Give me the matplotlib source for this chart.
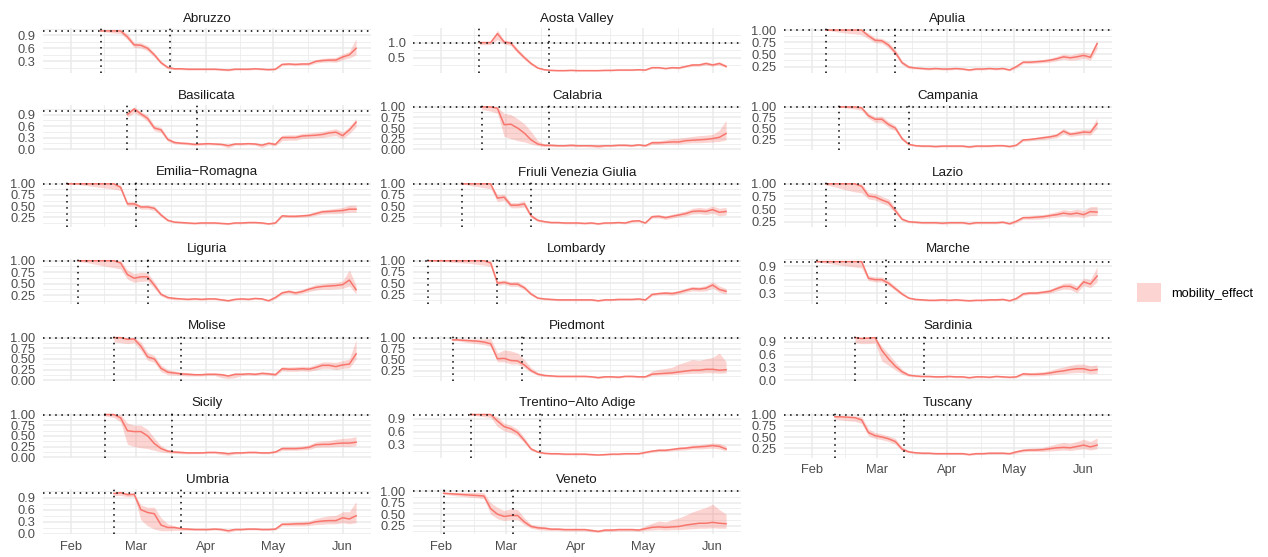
import numpy as np
import matplotlib
matplotlib.use("Agg")
import matplotlib.pyplot as plt
import matplotlib.dates as mdates
from matplotlib.patches import Patch

plt.rcParams["font.family"] = ["Liberation Sans", "DejaVu Sans"]

RED = "#F8766D"

regions = ["Abruzzo", "Aosta Valley", "Apulia",
           "Basilicata", "Calabria", "Campania",
           "Emilia\u2212Romagna", "Friuli Venezia Giulia", "Lazio",
           "Liguria", "Lombardy", "Marche",
           "Molise", "Piedmont", "Sardinia",
           "Sicily", "Trentino\u2212Alto Adige", "Tuscany",
           "Umbria", "Veneto"]

start_dates = ["2020-02-14", "2020-02-18", "2020-02-07", "2020-02-26", "2020-02-19",
               "2020-02-13", "2020-01-30", "2020-02-10", "2020-02-07", "2020-02-04",
               "2020-01-26", "2020-02-03", "2020-02-20", "2020-02-06", "2020-02-20",
               "2020-02-16", "2020-02-14", "2020-02-11", "2020-02-20", "2020-02-02"]

marker_dates = ["2020-03-16", "2020-03-20", "2020-03-09", "2020-03-28", "2020-03-20",
                "2020-03-15", "2020-03-01", "2020-03-12", "2020-03-09", "2020-03-06",
                "2020-02-26", "2020-03-05", "2020-03-21", "2020-03-08", "2020-03-22",
                "2020-03-17", "2020-03-16", "2020-03-13", "2020-03-21", "2020-03-04"]

# samples every 3 days; every series ends on 7 June
sample_dates = np.arange(np.datetime64("2020-01-27"), np.datetime64("2020-06-08"), 3)

effect_mean = [
    [1.0, 1.0, 1.0, 1.0, 0.86, 0.68, 0.67, 0.6, 0.45, 0.27, 0.16, 0.13, 0.13, 0.12, 0.12, 0.12, 0.12, 0.12, 0.11, 0.1, 0.12, 0.12, 0.12, 0.13, 0.12, 0.11, 0.12, 0.23, 0.24, 0.23, 0.24, 0.24, 0.3, 0.32, 0.33, 0.33, 0.4, 0.45, 0.6],
    [1.0, 1.0, 1.3, 1.02, 0.98, 0.72, 0.5, 0.3, 0.15, 0.09, 0.07, 0.06, 0.06, 0.07, 0.06, 0.06, 0.06, 0.06, 0.07, 0.07, 0.08, 0.08, 0.08, 0.09, 0.08, 0.16, 0.16, 0.13, 0.16, 0.15, 0.2, 0.25, 0.25, 0.3, 0.25, 0.3, 0.2],
    [1.0, 1.0, 1.0, 1.0, 1.0, 1.0, 0.88, 0.79, 0.78, 0.69, 0.54, 0.33, 0.24, 0.22, 0.21, 0.2, 0.21, 0.2, 0.2, 0.21, 0.2, 0.18, 0.2, 0.2, 0.21, 0.2, 0.21, 0.18, 0.25, 0.34, 0.34, 0.35, 0.36, 0.38, 0.41, 0.45, 0.43, 0.45, 0.48, 0.44, 0.72],
    [0.9, 1.05, 0.92, 0.8, 0.55, 0.5, 0.25, 0.17, 0.15, 0.14, 0.12, 0.13, 0.14, 0.13, 0.12, 0.09, 0.13, 0.13, 0.14, 0.13, 0.1, 0.15, 0.12, 0.3, 0.3, 0.3, 0.34, 0.35, 0.36, 0.38, 0.42, 0.44, 0.35, 0.5, 0.7],
    [1.0, 1.0, 0.97, 0.58, 0.59, 0.5, 0.38, 0.22, 0.12, 0.09, 0.09, 0.08, 0.08, 0.09, 0.08, 0.08, 0.08, 0.07, 0.08, 0.08, 0.09, 0.09, 0.08, 0.1, 0.08, 0.15, 0.15, 0.16, 0.17, 0.17, 0.2, 0.21, 0.22, 0.23, 0.25, 0.28, 0.37],
    [1.0, 1.0, 1.0, 0.98, 0.8, 0.72, 0.72, 0.6, 0.52, 0.28, 0.15, 0.12, 0.11, 0.11, 0.1, 0.11, 0.11, 0.11, 0.11, 0.09, 0.11, 0.11, 0.11, 0.12, 0.12, 0.1, 0.13, 0.25, 0.26, 0.28, 0.3, 0.32, 0.35, 0.45, 0.38, 0.4, 0.43, 0.42, 0.62],
    [1.0, 1.0, 1.0, 1.0, 1.0, 1.0, 1.0, 1.0, 0.92, 0.55, 0.55, 0.48, 0.48, 0.45, 0.3, 0.18, 0.14, 0.13, 0.12, 0.11, 0.12, 0.12, 0.12, 0.11, 0.1, 0.12, 0.12, 0.13, 0.13, 0.12, 0.1, 0.12, 0.28, 0.27, 0.27, 0.28, 0.29, 0.33, 0.37, 0.38, 0.39, 0.4, 0.43, 0.43],
    [1.0, 1.0, 1.0, 1.0, 1.0, 0.68, 0.7, 0.52, 0.52, 0.55, 0.28, 0.18, 0.15, 0.13, 0.13, 0.12, 0.12, 0.12, 0.11, 0.12, 0.1, 0.12, 0.12, 0.13, 0.12, 0.16, 0.17, 0.12, 0.26, 0.27, 0.24, 0.27, 0.3, 0.33, 0.38, 0.39, 0.38, 0.42, 0.36, 0.38],
    [1.0, 1.0, 1.0, 1.0, 1.0, 0.95, 0.76, 0.74, 0.68, 0.63, 0.47, 0.3, 0.25, 0.24, 0.23, 0.23, 0.23, 0.22, 0.23, 0.23, 0.23, 0.21, 0.23, 0.23, 0.23, 0.23, 0.24, 0.21, 0.26, 0.33, 0.33, 0.34, 0.35, 0.37, 0.39, 0.42, 0.4, 0.42, 0.39, 0.45, 0.44],
    [1.0, 1.0, 1.0, 1.0, 1.0, 1.0, 0.95, 0.7, 0.62, 0.65, 0.65, 0.47, 0.27, 0.2, 0.18, 0.17, 0.16, 0.17, 0.16, 0.17, 0.17, 0.15, 0.13, 0.16, 0.17, 0.16, 0.18, 0.17, 0.13, 0.2, 0.3, 0.33, 0.3, 0.33, 0.38, 0.42, 0.44, 0.45, 0.46, 0.48, 0.58, 0.37],
    [1.0, 1.0, 1.0, 1.0, 1.0, 1.0, 1.0, 1.0, 1.0, 0.95, 0.5, 0.52, 0.48, 0.48, 0.4, 0.26, 0.17, 0.15, 0.14, 0.13, 0.13, 0.13, 0.13, 0.13, 0.13, 0.11, 0.13, 0.13, 0.14, 0.14, 0.14, 0.15, 0.13, 0.25, 0.27, 0.28, 0.27, 0.3, 0.34, 0.38, 0.37, 0.39, 0.46, 0.36, 0.32],
    [1.0, 1.0, 1.0, 1.0, 1.0, 1.0, 1.0, 0.63, 0.6, 0.6, 0.52, 0.4, 0.28, 0.19, 0.16, 0.15, 0.14, 0.14, 0.15, 0.14, 0.15, 0.14, 0.13, 0.14, 0.14, 0.15, 0.15, 0.16, 0.13, 0.18, 0.28, 0.3, 0.3, 0.32, 0.34, 0.4, 0.45, 0.45, 0.38, 0.55, 0.5, 0.68],
    [1.0, 1.0, 0.96, 0.97, 0.8, 0.55, 0.5, 0.28, 0.19, 0.17, 0.15, 0.14, 0.13, 0.13, 0.14, 0.14, 0.13, 0.1, 0.14, 0.14, 0.15, 0.14, 0.16, 0.15, 0.13, 0.27, 0.26, 0.26, 0.27, 0.26, 0.3, 0.35, 0.35, 0.32, 0.36, 0.38, 0.62],
    [0.95, 0.94, 0.93, 0.92, 0.9, 0.86, 0.52, 0.53, 0.48, 0.47, 0.38, 0.25, 0.17, 0.14, 0.13, 0.12, 0.12, 0.12, 0.12, 0.12, 0.11, 0.09, 0.11, 0.11, 0.1, 0.12, 0.12, 0.11, 0.11, 0.17, 0.18, 0.19, 0.2, 0.22, 0.24, 0.26, 0.26, 0.28, 0.28, 0.26, 0.27],
    [1.0, 0.98, 0.99, 1.0, 0.7, 0.5, 0.33, 0.2, 0.12, 0.1, 0.09, 0.09, 0.08, 0.08, 0.09, 0.08, 0.08, 0.06, 0.08, 0.08, 0.07, 0.09, 0.08, 0.07, 0.08, 0.15, 0.14, 0.14, 0.15, 0.17, 0.2, 0.22, 0.25, 0.27, 0.27, 0.23, 0.25],
    [1.0, 1.0, 0.92, 0.62, 0.6, 0.6, 0.5, 0.32, 0.2, 0.14, 0.12, 0.11, 0.1, 0.1, 0.1, 0.11, 0.11, 0.1, 0.08, 0.1, 0.1, 0.11, 0.11, 0.1, 0.1, 0.12, 0.2, 0.2, 0.2, 0.21, 0.23, 0.29, 0.3, 0.3, 0.32, 0.33, 0.33, 0.35],
    [1.0, 1.0, 1.0, 1.0, 0.85, 0.72, 0.67, 0.58, 0.4, 0.2, 0.13, 0.1, 0.09, 0.09, 0.08, 0.08, 0.08, 0.08, 0.07, 0.06, 0.07, 0.08, 0.08, 0.09, 0.09, 0.09, 0.12, 0.15, 0.17, 0.17, 0.19, 0.21, 0.22, 0.24, 0.25, 0.26, 0.28, 0.26, 0.2],
    [0.95, 0.95, 0.94, 0.93, 0.88, 0.6, 0.53, 0.5, 0.46, 0.4, 0.23, 0.17, 0.15, 0.14, 0.14, 0.13, 0.13, 0.13, 0.13, 0.13, 0.11, 0.13, 0.13, 0.14, 0.14, 0.14, 0.13, 0.17, 0.2, 0.21, 0.21, 0.22, 0.24, 0.26, 0.27, 0.26, 0.29, 0.32, 0.28, 0.32],
    [1.0, 1.02, 0.97, 0.98, 0.6, 0.53, 0.5, 0.22, 0.16, 0.16, 0.13, 0.12, 0.11, 0.11, 0.11, 0.12, 0.11, 0.08, 0.11, 0.11, 0.12, 0.12, 0.11, 0.11, 0.12, 0.24, 0.24, 0.25, 0.25, 0.26, 0.3, 0.32, 0.33, 0.33, 0.4, 0.37, 0.45],
    [0.96, 0.95, 0.94, 0.93, 0.92, 0.91, 0.9, 0.62, 0.5, 0.45, 0.47, 0.47, 0.33, 0.23, 0.2, 0.19, 0.17, 0.17, 0.16, 0.16, 0.16, 0.16, 0.14, 0.12, 0.15, 0.15, 0.16, 0.16, 0.16, 0.15, 0.18, 0.21, 0.22, 0.21, 0.22, 0.23, 0.26, 0.28, 0.3, 0.3, 0.32, 0.3, 0.29],
]

effect_lo = [
    [0.99, 0.97, 0.95, 0.94, 0.8, 0.62, 0.61, 0.54, 0.4, 0.23, 0.13, 0.11, 0.11, 0.1, 0.1, 0.1, 0.1, 0.1, 0.09, 0.08, 0.1, 0.1, 0.1, 0.11, 0.1, 0.09, 0.1, 0.2, 0.21, 0.2, 0.21, 0.21, 0.26, 0.28, 0.29, 0.28, 0.34, 0.38, 0.45],
    [0.93, 0.93, 1.1, 0.95, 0.9, 0.65, 0.43, 0.25, 0.12, 0.07, 0.05, 0.05, 0.05, 0.05, 0.05, 0.05, 0.05, 0.05, 0.05, 0.05, 0.06, 0.06, 0.06, 0.07, 0.06, 0.13, 0.13, 0.11, 0.13, 0.12, 0.17, 0.2, 0.21, 0.25, 0.21, 0.25, 0.16],
    [0.99, 0.97, 0.95, 0.93, 0.92, 0.9, 0.82, 0.74, 0.73, 0.63, 0.48, 0.29, 0.21, 0.2, 0.19, 0.18, 0.19, 0.18, 0.18, 0.19, 0.18, 0.16, 0.18, 0.18, 0.19, 0.18, 0.19, 0.16, 0.22, 0.31, 0.31, 0.32, 0.33, 0.34, 0.37, 0.4, 0.38, 0.39, 0.42, 0.38, 0.62],
    [0.84, 0.95, 0.85, 0.72, 0.48, 0.43, 0.2, 0.13, 0.12, 0.11, 0.09, 0.1, 0.11, 0.1, 0.09, 0.03, 0.1, 0.1, 0.11, 0.1, 0.04, 0.11, 0.08, 0.22, 0.23, 0.23, 0.27, 0.28, 0.29, 0.3, 0.33, 0.35, 0.27, 0.4, 0.58],
    [0.93, 0.9, 0.85, 0.3, 0.25, 0.2, 0.17, 0.12, 0.08, 0.06, 0.06, 0.06, 0.06, 0.06, 0.06, 0.06, 0.05, 0.03, 0.06, 0.06, 0.07, 0.07, 0.06, 0.08, 0.06, 0.11, 0.11, 0.12, 0.12, 0.12, 0.14, 0.15, 0.15, 0.16, 0.17, 0.18, 0.22],
    [0.99, 0.97, 0.95, 0.92, 0.74, 0.65, 0.65, 0.53, 0.46, 0.24, 0.13, 0.1, 0.09, 0.09, 0.08, 0.09, 0.09, 0.09, 0.09, 0.07, 0.09, 0.09, 0.09, 0.1, 0.1, 0.08, 0.11, 0.22, 0.23, 0.25, 0.26, 0.28, 0.3, 0.39, 0.33, 0.35, 0.37, 0.36, 0.52],
    [1.0, 0.99, 0.98, 0.96, 0.94, 0.92, 0.9, 0.88, 0.85, 0.5, 0.5, 0.43, 0.43, 0.4, 0.26, 0.15, 0.12, 0.11, 0.1, 0.09, 0.1, 0.1, 0.1, 0.09, 0.08, 0.1, 0.1, 0.11, 0.11, 0.1, 0.08, 0.1, 0.25, 0.24, 0.24, 0.25, 0.26, 0.29, 0.32, 0.33, 0.33, 0.34, 0.36, 0.36],
    [0.99, 0.96, 0.94, 0.91, 0.89, 0.6, 0.63, 0.46, 0.46, 0.48, 0.24, 0.15, 0.13, 0.11, 0.11, 0.1, 0.1, 0.1, 0.09, 0.1, 0.08, 0.1, 0.1, 0.11, 0.1, 0.13, 0.14, 0.1, 0.23, 0.23, 0.2, 0.23, 0.26, 0.28, 0.32, 0.33, 0.31, 0.34, 0.28, 0.3],
    [0.97, 0.94, 0.9, 0.87, 0.84, 0.82, 0.7, 0.68, 0.62, 0.56, 0.42, 0.27, 0.23, 0.22, 0.21, 0.21, 0.21, 0.2, 0.21, 0.21, 0.21, 0.19, 0.21, 0.21, 0.21, 0.21, 0.22, 0.19, 0.23, 0.3, 0.3, 0.3, 0.31, 0.33, 0.34, 0.36, 0.34, 0.35, 0.33, 0.37, 0.37],
    [0.98, 0.96, 0.93, 0.9, 0.87, 0.85, 0.82, 0.6, 0.53, 0.55, 0.56, 0.4, 0.23, 0.17, 0.15, 0.15, 0.14, 0.15, 0.14, 0.15, 0.15, 0.13, 0.11, 0.14, 0.15, 0.14, 0.16, 0.15, 0.11, 0.17, 0.27, 0.29, 0.26, 0.29, 0.33, 0.36, 0.38, 0.38, 0.39, 0.4, 0.45, 0.28],
    [1.0, 0.99, 0.98, 0.97, 0.96, 0.95, 0.94, 0.92, 0.9, 0.87, 0.45, 0.48, 0.43, 0.43, 0.36, 0.23, 0.15, 0.13, 0.12, 0.11, 0.11, 0.11, 0.11, 0.11, 0.11, 0.09, 0.11, 0.11, 0.12, 0.12, 0.12, 0.13, 0.11, 0.22, 0.24, 0.24, 0.23, 0.26, 0.3, 0.33, 0.32, 0.33, 0.39, 0.3, 0.26],
    [0.98, 0.96, 0.94, 0.92, 0.9, 0.88, 0.86, 0.58, 0.55, 0.55, 0.47, 0.36, 0.25, 0.17, 0.14, 0.13, 0.12, 0.12, 0.13, 0.12, 0.13, 0.12, 0.11, 0.12, 0.12, 0.13, 0.13, 0.14, 0.11, 0.15, 0.25, 0.27, 0.27, 0.29, 0.3, 0.35, 0.39, 0.38, 0.31, 0.47, 0.42, 0.55],
    [0.9, 0.88, 0.86, 0.88, 0.7, 0.47, 0.42, 0.2, 0.13, 0.12, 0.11, 0.1, 0.1, 0.1, 0.11, 0.11, 0.06, 0.04, 0.06, 0.11, 0.12, 0.11, 0.13, 0.12, 0.1, 0.22, 0.21, 0.21, 0.22, 0.21, 0.24, 0.28, 0.28, 0.25, 0.28, 0.29, 0.5],
    [0.93, 0.9, 0.88, 0.86, 0.84, 0.8, 0.45, 0.45, 0.4, 0.4, 0.32, 0.21, 0.14, 0.12, 0.11, 0.1, 0.1, 0.1, 0.1, 0.1, 0.09, 0.07, 0.09, 0.09, 0.08, 0.1, 0.1, 0.09, 0.09, 0.14, 0.15, 0.15, 0.16, 0.17, 0.18, 0.19, 0.19, 0.2, 0.2, 0.19, 0.2],
    [0.88, 0.86, 0.86, 0.87, 0.45, 0.35, 0.24, 0.14, 0.09, 0.08, 0.07, 0.07, 0.06, 0.06, 0.07, 0.06, 0.06, 0.04, 0.06, 0.06, 0.05, 0.07, 0.06, 0.05, 0.06, 0.11, 0.1, 0.1, 0.11, 0.12, 0.14, 0.15, 0.17, 0.18, 0.18, 0.15, 0.16],
    [0.96, 0.93, 0.82, 0.3, 0.25, 0.22, 0.2, 0.16, 0.12, 0.1, 0.09, 0.08, 0.08, 0.08, 0.08, 0.09, 0.09, 0.06, 0.04, 0.07, 0.08, 0.09, 0.09, 0.08, 0.08, 0.1, 0.16, 0.16, 0.16, 0.17, 0.18, 0.23, 0.24, 0.24, 0.25, 0.25, 0.25, 0.27],
    [0.99, 0.97, 0.95, 0.93, 0.72, 0.62, 0.58, 0.5, 0.34, 0.17, 0.11, 0.08, 0.07, 0.07, 0.06, 0.06, 0.06, 0.06, 0.05, 0.05, 0.05, 0.06, 0.06, 0.07, 0.07, 0.07, 0.1, 0.12, 0.14, 0.14, 0.16, 0.17, 0.18, 0.2, 0.2, 0.21, 0.22, 0.2, 0.16],
    [0.9, 0.88, 0.86, 0.85, 0.8, 0.53, 0.47, 0.44, 0.4, 0.34, 0.19, 0.15, 0.13, 0.12, 0.12, 0.11, 0.11, 0.11, 0.11, 0.11, 0.09, 0.11, 0.11, 0.12, 0.12, 0.12, 0.11, 0.14, 0.17, 0.18, 0.18, 0.18, 0.19, 0.2, 0.21, 0.2, 0.22, 0.24, 0.21, 0.24],
    [0.95, 0.95, 0.92, 0.93, 0.35, 0.2, 0.12, 0.08, 0.08, 0.09, 0.09, 0.09, 0.09, 0.09, 0.09, 0.1, 0.08, 0.04, 0.08, 0.09, 0.1, 0.1, 0.09, 0.09, 0.1, 0.2, 0.2, 0.2, 0.2, 0.21, 0.23, 0.24, 0.25, 0.25, 0.28, 0.25, 0.28],
    [0.94, 0.92, 0.9, 0.89, 0.87, 0.86, 0.84, 0.5, 0.4, 0.36, 0.38, 0.38, 0.27, 0.19, 0.16, 0.15, 0.14, 0.14, 0.13, 0.13, 0.13, 0.13, 0.11, 0.1, 0.12, 0.12, 0.13, 0.13, 0.13, 0.12, 0.14, 0.15, 0.16, 0.15, 0.16, 0.16, 0.17, 0.18, 0.19, 0.19, 0.2, 0.19, 0.19],
]

effect_hi = [
    [1.0, 1.0, 1.0, 1.02, 0.94, 0.73, 0.73, 0.66, 0.5, 0.31, 0.19, 0.15, 0.15, 0.14, 0.14, 0.14, 0.14, 0.14, 0.13, 0.12, 0.14, 0.14, 0.14, 0.15, 0.14, 0.13, 0.14, 0.26, 0.27, 0.26, 0.27, 0.28, 0.34, 0.37, 0.38, 0.39, 0.47, 0.53, 0.82],
    [1.0, 1.0, 1.42, 1.08, 1.05, 0.8, 0.56, 0.35, 0.18, 0.11, 0.09, 0.08, 0.08, 0.09, 0.08, 0.08, 0.08, 0.08, 0.09, 0.09, 0.1, 0.1, 0.1, 0.11, 0.1, 0.19, 0.19, 0.16, 0.19, 0.19, 0.24, 0.3, 0.3, 0.36, 0.3, 0.36, 0.26],
    [1.0, 1.0, 1.0, 1.0, 1.0, 1.0, 0.94, 0.84, 0.83, 0.75, 0.6, 0.37, 0.27, 0.24, 0.23, 0.22, 0.23, 0.22, 0.22, 0.23, 0.22, 0.2, 0.22, 0.22, 0.23, 0.22, 0.23, 0.2, 0.28, 0.37, 0.37, 0.38, 0.4, 0.42, 0.46, 0.51, 0.49, 0.52, 0.55, 0.52, 0.8],
    [0.95, 1.1, 0.98, 0.88, 0.62, 0.57, 0.3, 0.21, 0.19, 0.18, 0.15, 0.16, 0.17, 0.16, 0.15, 0.12, 0.16, 0.16, 0.17, 0.16, 0.13, 0.19, 0.16, 0.36, 0.37, 0.37, 0.41, 0.42, 0.44, 0.46, 0.5, 0.53, 0.45, 0.58, 0.8],
    [1.0, 1.0, 1.0, 0.85, 0.82, 0.72, 0.6, 0.42, 0.2, 0.12, 0.12, 0.11, 0.11, 0.12, 0.11, 0.11, 0.11, 0.1, 0.11, 0.11, 0.12, 0.12, 0.11, 0.13, 0.11, 0.2, 0.2, 0.22, 0.25, 0.26, 0.28, 0.3, 0.32, 0.33, 0.35, 0.45, 0.68],
    [1.0, 1.0, 1.0, 1.0, 0.86, 0.78, 0.79, 0.67, 0.58, 0.32, 0.17, 0.14, 0.13, 0.13, 0.12, 0.13, 0.13, 0.13, 0.13, 0.11, 0.13, 0.13, 0.13, 0.14, 0.14, 0.12, 0.15, 0.28, 0.29, 0.31, 0.34, 0.36, 0.4, 0.51, 0.43, 0.46, 0.49, 0.49, 0.75],
    [1.0, 1.0, 1.0, 1.0, 1.0, 1.0, 1.0, 1.0, 0.97, 0.6, 0.6, 0.52, 0.53, 0.5, 0.34, 0.21, 0.16, 0.15, 0.14, 0.13, 0.14, 0.14, 0.14, 0.13, 0.12, 0.14, 0.14, 0.15, 0.15, 0.14, 0.12, 0.14, 0.31, 0.3, 0.3, 0.31, 0.33, 0.38, 0.42, 0.43, 0.45, 0.47, 0.52, 0.52],
    [1.0, 1.0, 1.0, 1.0, 1.0, 0.76, 0.77, 0.58, 0.58, 0.62, 0.32, 0.21, 0.17, 0.15, 0.15, 0.14, 0.14, 0.14, 0.13, 0.14, 0.12, 0.14, 0.14, 0.15, 0.14, 0.19, 0.2, 0.14, 0.3, 0.31, 0.28, 0.32, 0.35, 0.39, 0.45, 0.47, 0.45, 0.5, 0.45, 0.47],
    [1.0, 1.0, 1.0, 1.0, 1.0, 1.0, 0.83, 0.81, 0.75, 0.7, 0.53, 0.33, 0.27, 0.26, 0.25, 0.25, 0.25, 0.24, 0.25, 0.25, 0.25, 0.23, 0.25, 0.25, 0.25, 0.25, 0.26, 0.23, 0.29, 0.36, 0.37, 0.38, 0.39, 0.42, 0.45, 0.49, 0.47, 0.5, 0.47, 0.55, 0.55],
    [1.0, 1.0, 1.0, 1.0, 1.0, 1.0, 1.0, 0.8, 0.72, 0.75, 0.74, 0.54, 0.31, 0.23, 0.21, 0.19, 0.18, 0.19, 0.18, 0.19, 0.19, 0.17, 0.15, 0.18, 0.19, 0.18, 0.2, 0.19, 0.15, 0.23, 0.34, 0.37, 0.34, 0.38, 0.43, 0.48, 0.5, 0.52, 0.53, 0.56, 0.8, 0.46],
    [1.0, 1.0, 1.0, 1.0, 1.0, 1.0, 1.0, 1.0, 1.0, 1.0, 0.56, 0.57, 0.53, 0.54, 0.45, 0.3, 0.19, 0.17, 0.16, 0.15, 0.15, 0.15, 0.15, 0.15, 0.15, 0.13, 0.15, 0.15, 0.16, 0.16, 0.16, 0.17, 0.15, 0.28, 0.3, 0.32, 0.31, 0.34, 0.39, 0.43, 0.42, 0.45, 0.53, 0.44, 0.38],
    [1.0, 1.0, 1.0, 1.0, 1.0, 1.0, 1.02, 0.69, 0.66, 0.66, 0.58, 0.45, 0.32, 0.21, 0.18, 0.17, 0.16, 0.16, 0.17, 0.16, 0.17, 0.16, 0.15, 0.16, 0.16, 0.17, 0.17, 0.18, 0.15, 0.21, 0.32, 0.34, 0.34, 0.36, 0.39, 0.45, 0.52, 0.53, 0.46, 0.63, 0.6, 0.88],
    [1.0, 1.0, 1.0, 1.0, 0.9, 0.65, 0.58, 0.36, 0.25, 0.22, 0.19, 0.18, 0.16, 0.16, 0.17, 0.17, 0.16, 0.13, 0.17, 0.17, 0.18, 0.17, 0.2, 0.19, 0.17, 0.32, 0.31, 0.32, 0.33, 0.32, 0.37, 0.43, 0.43, 0.42, 0.46, 0.5, 0.95],
    [0.97, 0.97, 0.97, 0.97, 0.97, 0.98, 0.65, 0.72, 0.7, 0.65, 0.5, 0.32, 0.21, 0.17, 0.15, 0.14, 0.14, 0.14, 0.14, 0.14, 0.13, 0.11, 0.13, 0.13, 0.12, 0.14, 0.14, 0.13, 0.14, 0.24, 0.28, 0.3, 0.33, 0.4, 0.45, 0.5, 0.48, 0.52, 0.55, 0.65, 0.45],
    [1.0, 1.0, 1.0, 1.0, 0.8, 0.62, 0.43, 0.26, 0.15, 0.12, 0.11, 0.11, 0.1, 0.1, 0.11, 0.1, 0.1, 0.08, 0.1, 0.1, 0.09, 0.11, 0.1, 0.09, 0.1, 0.19, 0.18, 0.19, 0.2, 0.23, 0.28, 0.31, 0.35, 0.38, 0.38, 0.34, 0.36],
    [1.0, 1.0, 1.0, 0.8, 0.75, 0.75, 0.65, 0.45, 0.27, 0.18, 0.15, 0.14, 0.13, 0.13, 0.13, 0.14, 0.14, 0.13, 0.11, 0.13, 0.13, 0.14, 0.14, 0.13, 0.13, 0.15, 0.25, 0.25, 0.25, 0.26, 0.29, 0.36, 0.38, 0.39, 0.42, 0.44, 0.45, 0.48],
    [1.0, 1.0, 1.0, 1.0, 0.95, 0.8, 0.75, 0.66, 0.47, 0.24, 0.15, 0.12, 0.11, 0.11, 0.1, 0.1, 0.1, 0.1, 0.09, 0.07, 0.09, 0.1, 0.1, 0.11, 0.11, 0.11, 0.14, 0.18, 0.2, 0.2, 0.22, 0.25, 0.26, 0.29, 0.3, 0.32, 0.34, 0.33, 0.27],
    [0.97, 0.97, 0.97, 0.97, 0.95, 0.68, 0.6, 0.57, 0.52, 0.47, 0.28, 0.2, 0.17, 0.16, 0.16, 0.15, 0.15, 0.15, 0.15, 0.15, 0.13, 0.15, 0.15, 0.16, 0.16, 0.16, 0.15, 0.2, 0.24, 0.25, 0.26, 0.27, 0.31, 0.35, 0.38, 0.36, 0.4, 0.45, 0.4, 0.48],
    [1.0, 1.05, 1.02, 1.0, 0.72, 0.66, 0.66, 0.4, 0.25, 0.2, 0.16, 0.15, 0.14, 0.14, 0.14, 0.15, 0.14, 0.11, 0.14, 0.14, 0.15, 0.15, 0.14, 0.14, 0.15, 0.28, 0.29, 0.3, 0.31, 0.32, 0.38, 0.42, 0.45, 0.46, 0.55, 0.55, 0.8],
    [0.98, 0.98, 0.98, 0.98, 0.98, 0.98, 0.97, 0.75, 0.65, 0.58, 0.62, 0.6, 0.42, 0.28, 0.24, 0.23, 0.2, 0.2, 0.19, 0.19, 0.19, 0.19, 0.17, 0.15, 0.18, 0.18, 0.19, 0.19, 0.19, 0.18, 0.24, 0.3, 0.35, 0.33, 0.38, 0.42, 0.48, 0.55, 0.6, 0.65, 0.72, 0.6, 0.5],
]

q3 = [0.3, 0.6, 0.9]
q4 = [0.25, 0.5, 0.75, 1.0]
y_breaks = [q3, [0.5, 1.0], q4,
            [0.0] + q3, [0.0] + q4, q4,
            q4, q4, q4,
            q4, q4, q3,
            [0.0] + q4, q4, [0.0] + q3,
            [0.0] + q4, q3, q4,
            [0.0] + q3, q4]

month_ticks = ["2020-02-01", "2020-03-01", "2020-04-01", "2020-05-01", "2020-06-01"]


def to_num(s):
    return mdates.date2num(np.array([np.datetime64(s)]))[0]


W, H = 1268, 557
fig = plt.figure(figsize=(W / 100, H / 100), dpi=100)
fig.patch.set_facecolor("white")

col_left = [43, 413, 784]
panel_w, panel_h = 328, 45
row_top = [28 + 76.9 * r for r in range(7)]

sample_num = mdates.date2num(sample_dates)
x0 = min(to_num(s) for s in start_dates)
x1 = sample_num[-1]
xlim = (x0 - 0.05 * (x1 - x0), x1 + 0.05 * (x1 - x0))
major_x = [to_num(s) for s in month_ticks]
minor_x = [(a + b) / 2 for a, b in zip(major_x[:-1], major_x[1:])]

dotted = (0, (1, 3))
n_panels = len(regions)

for i, name in enumerate(regions):
    r, c = divmod(i, 3)
    ax = fig.add_axes([col_left[c] / W, 1 - (row_top[r] + panel_h) / H,
                       panel_w / W, panel_h / H])
    mean = np.array(effect_mean[i], dtype=float)
    lo = np.array(effect_lo[i], dtype=float)
    hi = np.array(effect_hi[i], dtype=float)
    x = sample_num[-len(mean):]
    start = to_num(start_dates[i])
    if start < x[0]:
        x = np.r_[start, x]
        mean, lo, hi = np.r_[mean[0], mean], np.r_[lo[0], lo], np.r_[hi[0], hi]

    ax.fill_between(x, lo, hi, color=RED, alpha=0.3, linewidth=0, zorder=2)
    ax.plot(x, mean, color=RED, lw=1.1, zorder=3)
    ax.axhline(1.0, color="black", lw=1.1, ls=dotted, zorder=4)
    ax.axvline(start, color="black", lw=1.1, ls=dotted, zorder=4)
    ax.axvline(to_num(marker_dates[i]), color="black", lw=1.1, ls=dotted, zorder=4)

    y0, y1 = min(lo.min(), 1.0), max(hi.max(), 1.0)
    pad = 0.05 * (y1 - y0)
    ax.set_ylim(y0 - pad, y1 + pad)
    ax.set_xlim(*xlim)

    br = y_breaks[i]
    step = br[1] - br[0]
    minor_y = [b - step / 2 for b in br] + [br[-1] + step / 2]
    minor_y = [m for m in minor_y if y0 - pad <= m <= y1 + pad]
    dec = 1 if all(abs(b * 10 - round(b * 10)) < 1e-9 for b in br) else 2
    ax.set_yticks(br)
    ax.set_yticklabels([f"{b:.{dec}f}" for b in br])
    ax.set_yticks(minor_y, minor=True)
    ax.set_xticks(major_x)
    ax.set_xticks(minor_x, minor=True)
    ax.xaxis.set_major_formatter(mdates.DateFormatter("%b"))

    ax.grid(which="major", color="#EBEBEB", lw=1.1)
    ax.grid(which="minor", color="#EBEBEB", lw=0.55)
    ax.set_axisbelow(True)
    for sp in ax.spines.values():
        sp.set_visible(False)

    bottom = i + 3 >= n_panels
    ax.tick_params(which="both", length=0, labelsize=9.3, labelcolor="#4D4D4D")
    ax.tick_params(axis="y", pad=5.3)
    ax.tick_params(axis="x", pad=4.4, labelbottom=bottom)

    fig.text((col_left[c] + panel_w / 2) / W, 1 - (row_top[r] - 6.3) / H, name,
             ha="center", va="baseline", fontsize=9.6, color="#1A1A1A")

key = Patch(facecolor=RED, alpha=0.3, edgecolor="none")
fig.legend(handles=[key], labels=["mobility_effect"], loc="center left",
           bbox_to_anchor=(1137 / W, 1 - 292.5 / H), frameon=False,
           fontsize=9.3, handlelength=24 / 12.9, handleheight=24 / 12.9,
           handletextpad=10 / 12.9, borderpad=0, borderaxespad=0)

fig.savefig("out.png", dpi=100, facecolor="white")
